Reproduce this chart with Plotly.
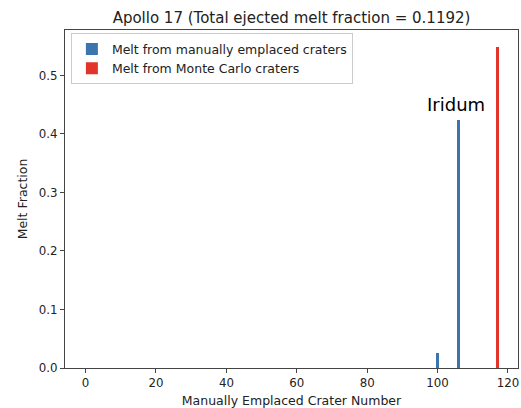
import plotly.graph_objects as go

# Data
manual_crater_numbers = [100, 106]
manual_melt_fraction = [0.026, 0.424]
mc_crater_numbers = [117]
mc_melt_fraction = [0.548]
x_ticks = [0, 20, 40, 60, 80, 100, 120]
y_ticks = [0.0, 0.1, 0.2, 0.3, 0.4, 0.5]
title_text = "Apollo 17 (Total ejected melt fraction = 0.1192)"
annotation_text = "Iridum"

BLUE = "#3b75af"
RED = "#e3342c"
FONT = "DejaVu Sans"

fig = go.Figure()
fig.add_trace(go.Bar(x=manual_crater_numbers, y=manual_melt_fraction, width=0.8,
                     marker=dict(color=BLUE, line=dict(width=0)),
                     name="Melt from manually emplaced craters"))
fig.add_trace(go.Bar(x=mc_crater_numbers, y=mc_melt_fraction, width=0.8,
                     marker=dict(color=RED, line=dict(width=0)),
                     name="Melt from Monte Carlo craters"))

fig.add_annotation(x=105.2, y=0.45, text=annotation_text, showarrow=False,
                   font=dict(family=FONT, size=18, color="black"),
                   xanchor="center", yanchor="middle")

axis_common = dict(showline=True, linecolor="#444", linewidth=1, mirror=True,
                   ticks="outside", ticklen=4, tickcolor="#444", tickwidth=1,
                   showgrid=False, zeroline=False,
                   tickfont=dict(family=FONT, size=11.8, color="#222"))

fig.update_layout(
    width=521, height=408,
    margin=dict(l=65, r=3, t=30, b=40),
    paper_bgcolor="white", plot_bgcolor="white",
    title=dict(text=title_text, xref="paper", x=0.5, xanchor="center",
               yref="container", y=1 - 18 / 408, yanchor="middle",
               font=dict(family=FONT, size=15, color="#222")),
    xaxis=dict(range=[-5.85, 122.85], tickvals=x_ticks,
               title=dict(text="Manually Emplaced Crater Number", standoff=7,
                          font=dict(family=FONT, size=12.5, color="#222")),
               **axis_common),
    yaxis=dict(range=[0, 0.5775], tickvals=y_ticks, tickformat=".1f",
               title=dict(text="Melt Fraction", standoff=8,
                          font=dict(family=FONT, size=12.5, color="#222")),
               **axis_common),
    legend=dict(x=0.013, y=0.99, xanchor="left", yanchor="top",
                bgcolor="rgba(255,255,255,0.8)", bordercolor="#cccccc", borderwidth=1,
                font=dict(family=FONT, size=12.5, color="#222"), traceorder="normal",
                tracegroupgap=0, itemwidth=30),
    showlegend=True,
    bargap=0,
)

fig.write_html("out.html", config={"displayModeBar": False},
               post_script="document.body.style.margin='0';")
